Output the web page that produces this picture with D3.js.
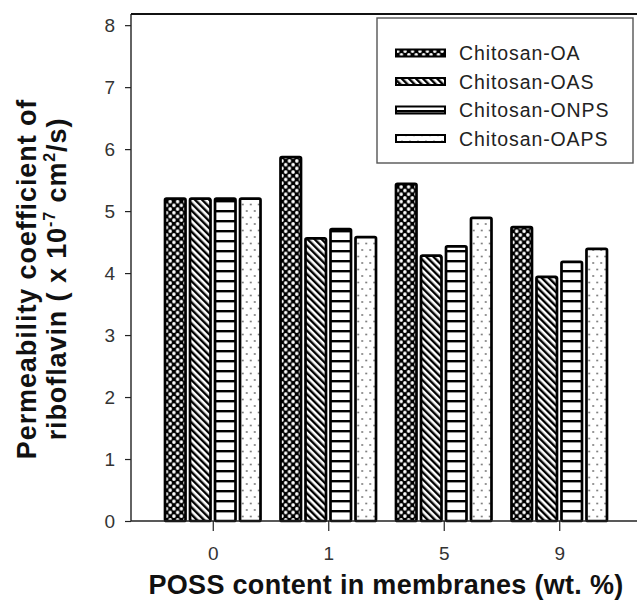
<!DOCTYPE html>
<html><head><meta charset="utf-8">
<script src="https://cdn.jsdelivr.net/npm/d3@7"></script>
<style>
html,body{margin:0;padding:0;background:#fff;}
svg{display:block;font-family:"Liberation Sans",Arial,sans-serif;}
</style></head>
<body>
<svg id="chart" width="637" height="601"></svg>
<script>
const categories = ["0", "1", "5", "9"];
const seriesNames = ["Chitosan-OA", "Chitosan-OAS", "Chitosan-ONPS", "Chitosan-OAPS"];
const valuesOA   = [5.20, 5.87, 5.44, 4.74];
const valuesOAS  = [5.20, 4.56, 4.28, 3.94];
const valuesONPS = [5.20, 4.71, 4.43, 4.18];
const valuesOAPS = [5.20, 4.58, 4.89, 4.39];
const yTicks = [0, 1, 2, 3, 4, 5, 6, 7, 8];
const xTitle = "POSS content in membranes (wt. %)";
const yTitle1 = "Permeability coefficient of";

const seriesValues = [valuesOA, valuesOAS, valuesONPS, valuesOAPS];
const patternIds = ["pOA", "pOAS", "pONPS", "pOAPS"];

const svg = d3.select("#chart");
const defs = svg.append("defs");

// crosshatch (OA)
const p1 = defs.append("pattern").attr("id", "pOA").attr("patternUnits", "userSpaceOnUse")
  .attr("width", 7.4).attr("height", 7.4);
p1.append("rect").attr("width", 7.4).attr("height", 7.4).attr("fill", "#000");
p1.append("circle").attr("cx", 1.85).attr("cy", 1.85).attr("r", 1.75).attr("fill", "#fff");
p1.append("circle").attr("cx", 5.55).attr("cy", 5.55).attr("r", 1.75).attr("fill", "#fff");

// diagonal "\" stripes (OAS)
const p2 = defs.append("pattern").attr("id", "pOAS").attr("patternUnits", "userSpaceOnUse")
  .attr("width", 5).attr("height", 10).attr("patternTransform", "rotate(-45)");
p2.append("rect").attr("width", 5).attr("height", 10).attr("fill", "#fff");
p2.append("rect").attr("x", 0).attr("width", 2.4).attr("height", 10).attr("fill", "#000");

// horizontal stripes (ONPS)
const p3 = defs.append("pattern").attr("id", "pONPS").attr("patternUnits", "userSpaceOnUse")
  .attr("width", 10).attr("height", 10);
p3.append("rect").attr("width", 10).attr("height", 10).attr("fill", "#fff");
p3.append("rect").attr("y", 0).attr("width", 10).attr("height", 2.4).attr("fill", "#000");

// sparse dots (OAPS)
const p4 = defs.append("pattern").attr("id", "pOAPS").attr("patternUnits", "userSpaceOnUse")
  .attr("width", 8).attr("height", 13);
p4.append("rect").attr("width", 8).attr("height", 13).attr("fill", "#fff");
p4.append("circle").attr("cx", 2).attr("cy", 3).attr("r", 0.9).attr("fill", "#666");
p4.append("circle").attr("cx", 6).attr("cy", 9.5).attr("r", 0.9).attr("fill", "#666");

const axisX0 = 131, axisY0 = 521, plotTop = 14;

const y = d3.scaleLinear().domain([0, 8.18]).range([axisY0, plotTop]);
const x0 = d3.scalePoint().domain(categories).range([axisX0, 641]).padding(0.708);
const x1 = d3.scaleBand().domain(seriesNames).range([-47.75, 47.75]).paddingInner(0.18);

// bars
const groups = svg.append("g").selectAll("g").data(categories).join("g")
  .attr("transform", d => `translate(${x0(d)},0)`);
groups.selectAll("rect")
  .data((c, ci) => seriesNames.map((s, si) => ({ s, si, v: seriesValues[si][ci] })))
  .join("rect")
  .attr("x", d => x1(d.s))
  .attr("width", x1.bandwidth())
  .attr("y", d => y(d.v))
  .attr("height", d => y(0) - y(d.v))
  .attr("rx", 1.5)
  .attr("fill", d => `url(#${patternIds[d.si]})`)
  .attr("stroke", "#000")
  .attr("stroke-width", 2.7);

// y axis
const yAxis = d3.axisLeft(y).tickValues(yTicks).tickSize(6).tickPadding(10).tickFormat(d3.format("d"));
const gy = svg.append("g").attr("transform", `translate(${axisX0},0)`).call(yAxis);
gy.select(".domain").remove();
gy.append("line").attr("x1", 0).attr("x2", 0).attr("y1", plotTop).attr("y2", axisY0)
  .attr("stroke", "#222").attr("stroke-width", 1.4);
gy.selectAll(".tick line").attr("stroke", "#222").attr("stroke-width", 1.2);
gy.selectAll(".tick text").attr("font-size", 19).attr("fill", "#333")
  .attr("font-family", "'Liberation Sans', Arial, sans-serif");

// x axis
const xAxis = d3.axisBottom(x0).tickSize(10).tickPadding(16);
const gx = svg.append("g").attr("transform", `translate(0,${axisY0})`).call(xAxis);
gx.select(".domain").remove();
gx.append("line").attr("x1", axisX0).attr("x2", 637).attr("y1", 0).attr("y2", 0)
  .attr("stroke", "#222").attr("stroke-width", 1.4);
gx.selectAll(".tick line").attr("stroke", "#222").attr("stroke-width", 1.2);
gx.selectAll(".tick text").attr("font-size", 19).attr("fill", "#333")
  .attr("font-family", "'Liberation Sans', Arial, sans-serif");

// top frame line
svg.append("line").attr("x1", axisX0).attr("x2", 637).attr("y1", plotTop).attr("y2", plotTop)
  .attr("stroke", "#111").attr("stroke-width", 1.8);

// legend
const lg = svg.append("g");
lg.append("rect").attr("x", 377).attr("y", 18).attr("width", 256).attr("height", 145)
  .attr("fill", "#fff").attr("stroke", "#555").attr("stroke-width", 1.4);
const items = lg.selectAll("g.item").data(seriesNames).join("g")
  .attr("transform", (d, i) => `translate(0,${53 + i * 28.5})`);
items.append("rect").attr("x", 396).attr("y", -3.5).attr("width", 49).attr("height", 7)
  .attr("fill", (d, i) => `url(#${patternIds[i]})`).attr("stroke", "#000").attr("stroke-width", 2);
items.append("text").attr("x", 459).attr("y", 7).attr("font-size", 19.5)
  .attr("letter-spacing", 0.9).attr("fill", "#222").text(d => d);

// axis titles
svg.append("text").attr("x", 386).attr("y", 594).attr("text-anchor", "middle")
  .attr("font-size", 27).attr("font-weight", "bold").attr("letter-spacing", 0.3)
  .attr("fill", "#111").text(xTitle);

const yt = svg.append("g").attr("transform", "translate(0,279) rotate(-90)");
yt.append("text").attr("x", 0).attr("y", 36).attr("text-anchor", "middle")
  .attr("font-size", 27).attr("font-weight", "bold").attr("letter-spacing", 0.9)
  .attr("fill", "#111").text(yTitle1);
const t2 = yt.append("text").attr("x", 0).attr("y", 66).attr("text-anchor", "middle")
  .attr("font-size", 27).attr("font-weight", "bold").attr("letter-spacing", 0.9).attr("fill", "#111");
t2.append("tspan").text("riboflavin ( x 10");
t2.append("tspan").attr("dy", -11).attr("font-size", 16).text("-7");
t2.append("tspan").attr("dy", 11).text(" cm");
t2.append("tspan").attr("dy", -11).attr("font-size", 16).text("2");
t2.append("tspan").attr("dy", 11).text("/s)");
</script>
</body></html>
